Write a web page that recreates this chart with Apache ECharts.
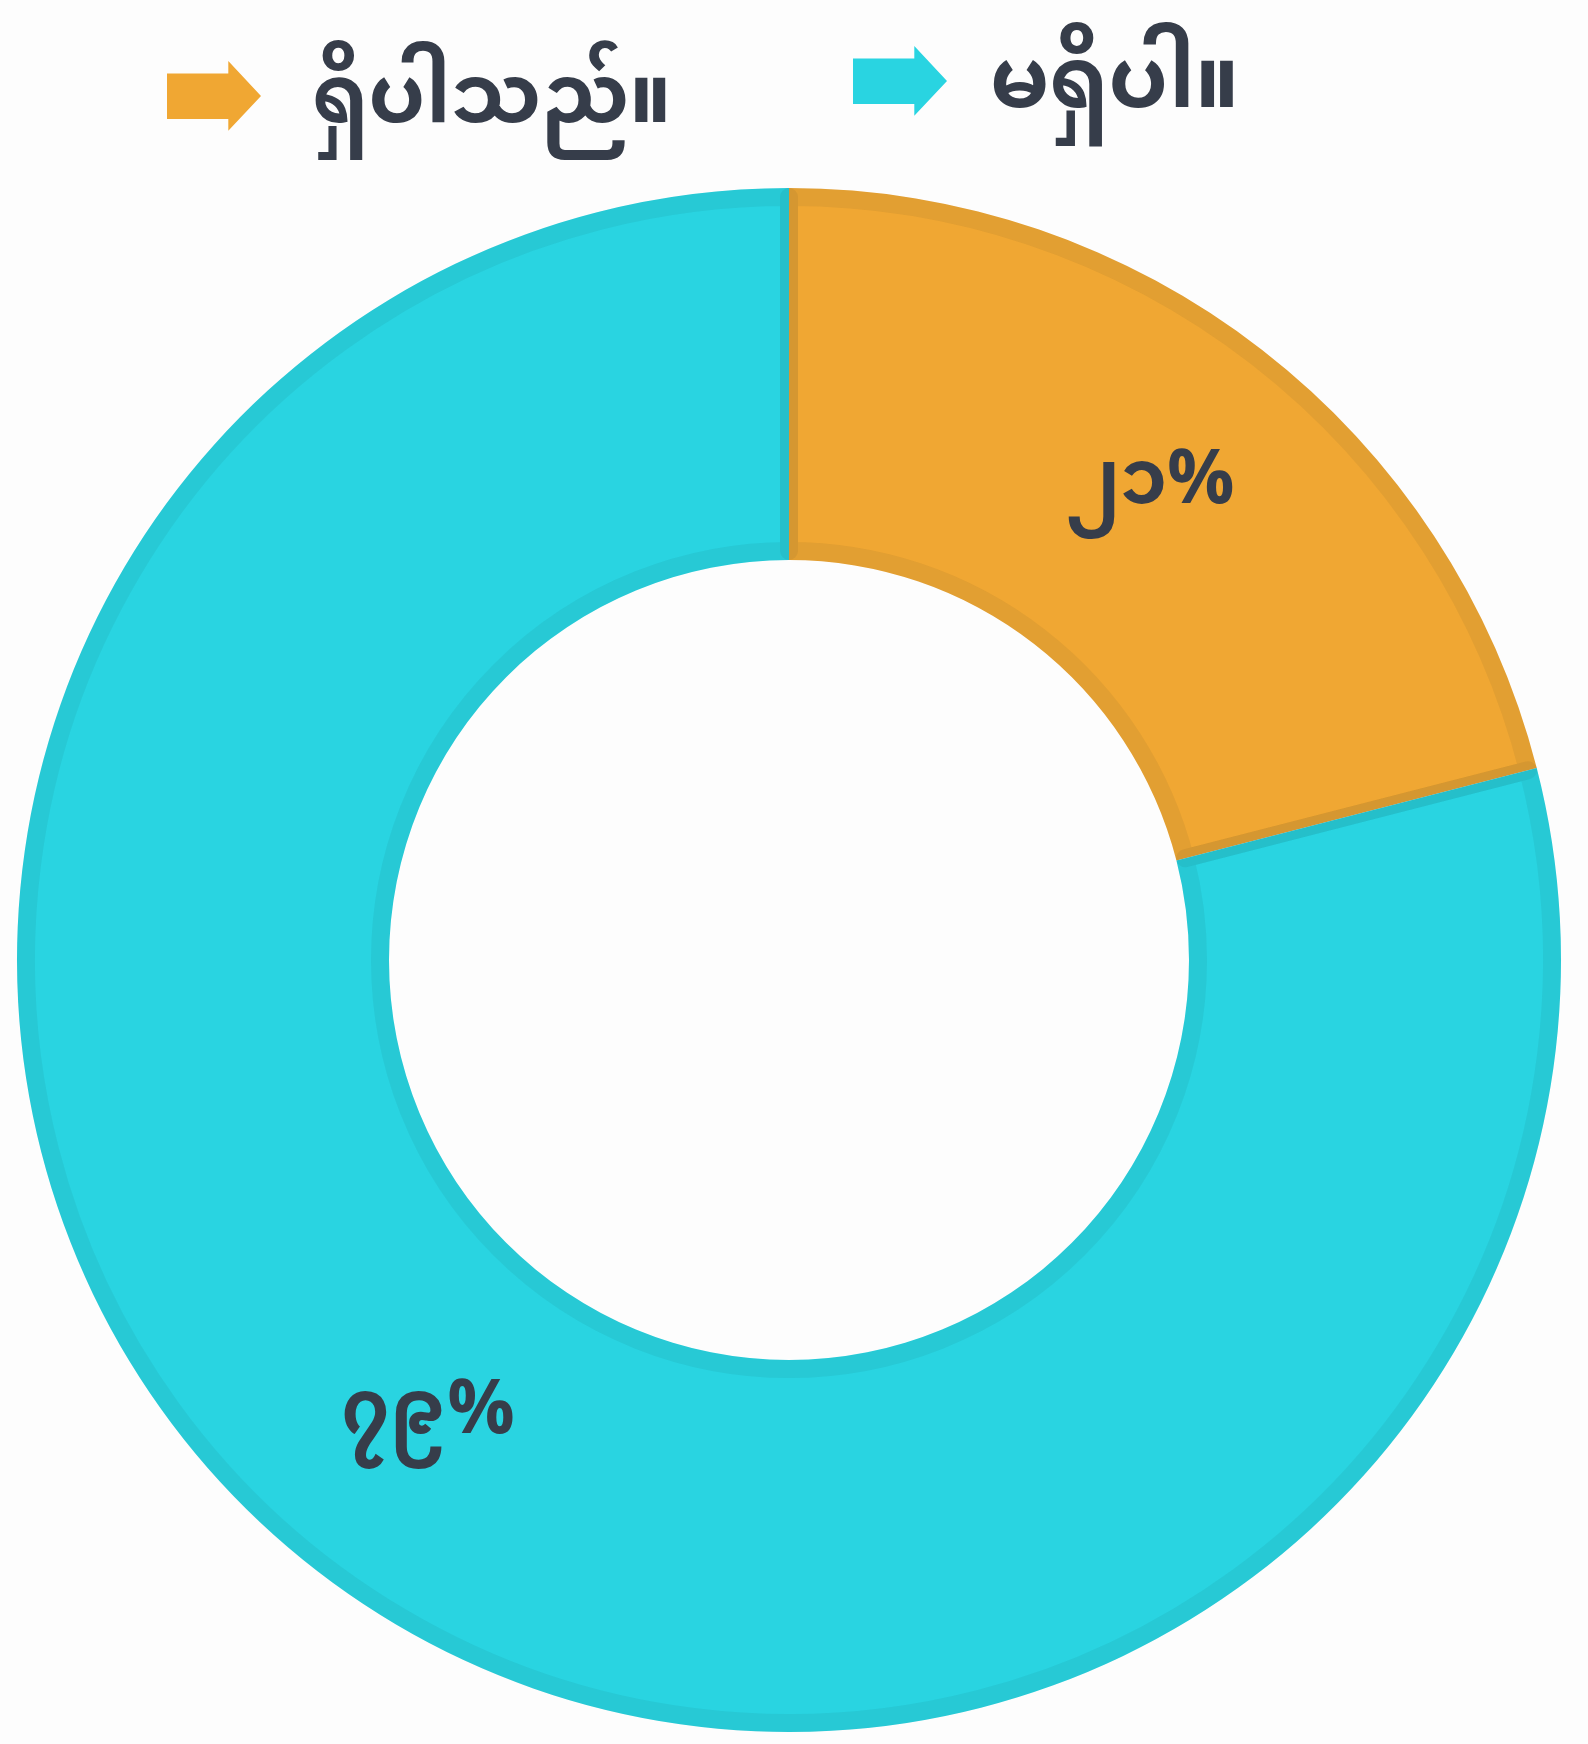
<!DOCTYPE html>
<html>
<head>
<meta charset="utf-8">
<script src="https://cdn.jsdelivr.net/npm/echarts@6.0.0/dist/echarts.min.js"></script>
<style>
  html, body { margin: 0; padding: 0; background: #fdfdfd; }
  #chart { width: 1588px; height: 1744px; }
</style>
</head>
<body>
<div id="chart"></div>
<script>
// Chart data
const categories = ["ရှိပါသည်။", "မရှိပါ။"];
const values = [21, 79];
const valueLabels = ["၂၁%", "၇၉%"];
const colors = ["#f0a733", "#29d4e1"];

const FONT = '"Noto Sans Myanmar", "Padauk", "Myanmar Text", "Noto Sans", sans-serif';
const TEXT_COLOR = "#363d4a";

// Arrow shaped legend icon; the lone moveTo below it pushes the arrow up against the text
const arrowIcon = "path://M0,305 M0,37 L180,37 L180,0 L276,103 L180,205 L180,170 L0,170 Z";

const center = [789, 960];
const inner = 400;
const outer = 772;
const edge = 18; // dark band width along slice edges (half of it inside each slice)

const pieData = categories.map((name, i) => ({
  name,
  value: values[i],
  itemStyle: { color: colors[i] },
  label: { formatter: valueLabels[i] },
}));

function legendFor(name, left, top, gap, size) {
  return {
    data: [name],
    left,
    top,
    padding: 0,
    icon: arrowIcon,
    itemWidth: 94,
    itemHeight: 104,
    selectedMode: false,
    textStyle: {
      fontFamily: FONT,
      fontSize: size,
      fontWeight: "bold",
      color: TEXT_COLOR,
      lineHeight: 70,
      padding: [0, 0, 0, gap],
    },
  };
}

const option = {
  backgroundColor: "#fdfdfd",
  animation: false,
  legend: [
    legendFor(categories[0], 167, 61, 46, 81),
    legendFor(categories[1], 853, 46, 38, 85),
  ],
  series: [
    {
      name: "fill",
      type: "pie",
      center,
      radius: [inner, outer],
      startAngle: 90,
      clockwise: true,
      z: 1,
      silent: true,
      data: pieData,
      label: {
        show: true,
        position: "inside",
        fontFamily: FONT,
        fontSize: 75,
        fontWeight: "bold",
        color: TEXT_COLOR,
      },
      labelLine: { show: false },
    },
    {
      // darker band along every slice edge
      name: "edge",
      type: "pie",
      center,
      radius: [inner + edge / 2, outer - edge / 2],
      startAngle: 90,
      clockwise: true,
      z: 2,
      silent: true,
      legendHoverLink: false,
      data: categories.map((name, i) => ({ name: name + " ", value: values[i] })),
      itemStyle: {
        color: "rgba(0,0,0,0)",
        borderColor: "rgba(20,30,40,0.06)",
        borderWidth: edge,
      },
      label: { show: false },
      labelLine: { show: false },
    },
  ],
};

const chart = echarts.init(document.getElementById("chart"), null, { renderer: "canvas" });
chart.setOption(option);
</script>
</body>
</html>
